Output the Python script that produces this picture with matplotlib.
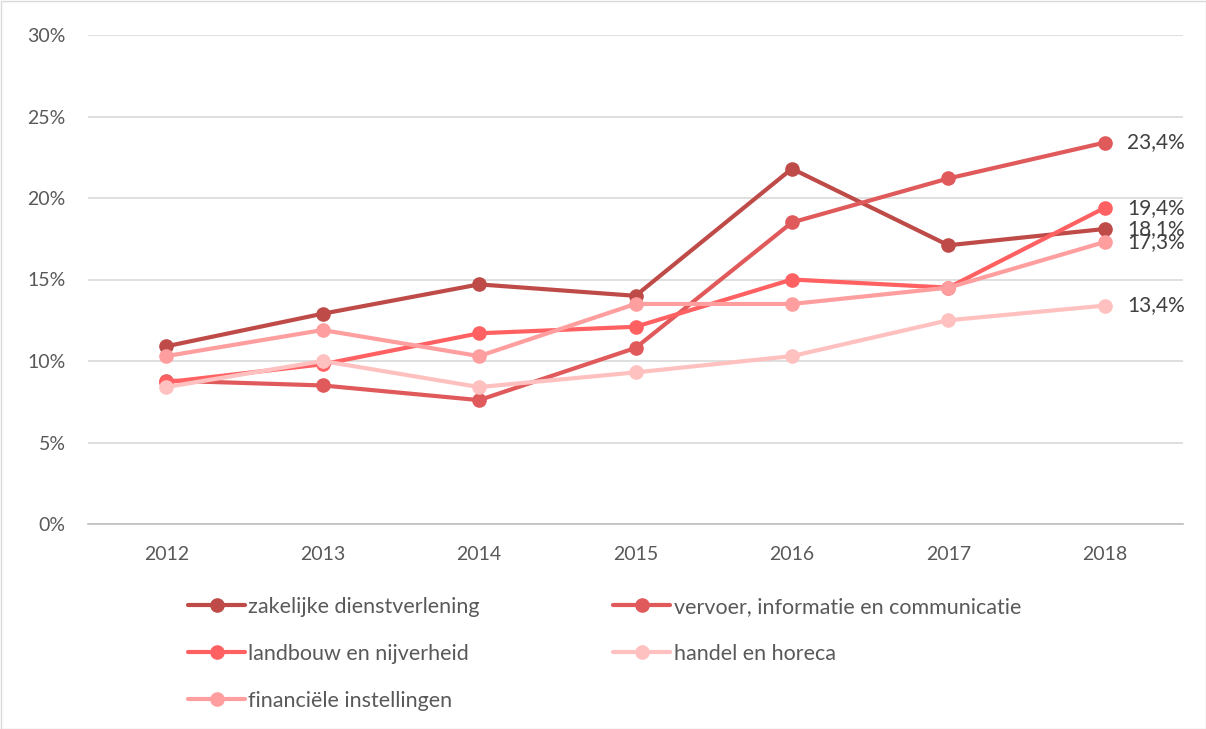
import matplotlib
matplotlib.use("Agg")
import matplotlib.pyplot as plt
from matplotlib.ticker import FuncFormatter

years = ["2012", "2013", "2014", "2015", "2016", "2017", "2018"]
zakelijke = [10.9, 12.9, 14.7, 14.0, 21.8, 17.1, 18.1]
vervoer = [8.8, 8.5, 7.6, 10.8, 18.5, 21.2, 23.4]
landbouw = [8.7, 9.8, 11.7, 12.1, 15.0, 14.5, 19.4]
handel = [8.4, 10.0, 8.4, 9.3, 10.3, 12.5, 13.4]
financieel = [10.3, 11.9, 10.3, 13.5, 13.5, 14.5, 17.3]

series_names = ["zakelijke dienstverlening", "vervoer, informatie en communicatie",
                "landbouw en nijverheid", "handel en horeca", "financiële instellingen"]
series_values = [zakelijke, vervoer, landbouw, handel, financieel]
colors = ["#BE4B48", "#E0595B", "#FF6163", "#FFC0C0", "#FF9E9E"]

plt.rcParams['font.family'] = ['Lato', 'DejaVu Sans']

fig = plt.figure(figsize=(12.06, 7.29), dpi=100)
ax = fig.add_axes([88/1206, 1-524/729, (1183-88)/1206, (524-35)/729])

x = list(range(len(years)))
handles = []
for name, vals, c in zip(series_names, series_values, colors):
    h, = ax.plot(x, vals, color=c, lw=3.0, marker='o', ms=9.5, label=name,
                 solid_capstyle='round', zorder=3)
    handles.append(h)
    ax.annotate(f"{vals[-1]:.1f}%".replace('.', ','), (x[-1], vals[-1]),
                xytext=(16, 0), textcoords='offset points', va='center', ha='left',
                fontsize=15, color='#404040')

ax.set_xlim(-0.5, len(years) - 0.5)
ax.set_ylim(0, 30)
ax.set_yticks(range(0, 31, 5))
ax.yaxis.set_major_formatter(FuncFormatter(lambda v, p: f"{int(v)}%"))
ax.set_xticks(x)
ax.set_xticklabels(years)
ax.tick_params(length=0, labelsize=14, colors='#595959')
ax.tick_params(axis='x', pad=16)
ax.tick_params(axis='y', pad=16)
ax.grid(axis='y', color='#D9D9D9', lw=1.2, zorder=0)
for s in ['left', 'right', 'top']:
    ax.spines[s].set_visible(False)
ax.spines['bottom'].set_color('#BFBFBF')
ax.spines['bottom'].set_linewidth(1.2)

# row-major legend order for 2 columns
order = [0, 2, 4, 1, 3]
leg = fig.legend([handles[i] for i in order], [series_names[i] for i in order],
                 ncol=2, loc='upper left', borderpad=0, borderaxespad=0,
                 bbox_to_anchor=(188/1206, 1-597/729), frameon=False,
                 fontsize=15.5, handlelength=2.65, handletextpad=0.15,
                 columnspacing=6.2, labelspacing=1.25, labelcolor='#595959')

fig.patches.append(plt.Rectangle((0.5/1206, 0.5/729), 1-1/1206, 1-1/729,
                                 transform=fig.transFigure, fill=False,
                                 edgecolor='#D9D9D9', lw=1))
fig.savefig("out.png", dpi=100)
